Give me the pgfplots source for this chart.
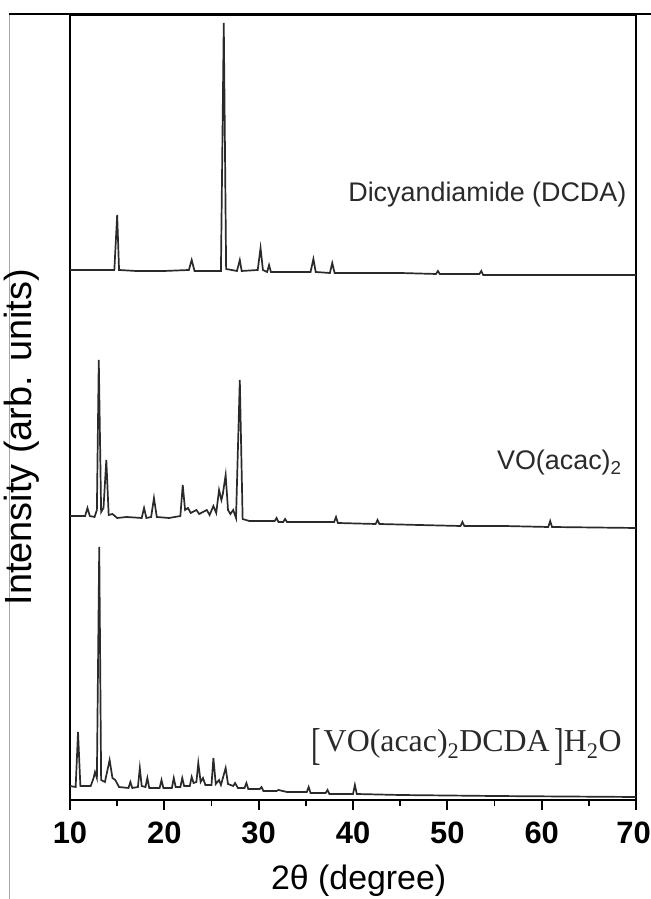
\documentclass[border=0pt]{standalone}
\usepackage{fontspec}
\setmainfont{Liberation Sans}
\newfontfamily\timesfont{Liberation Serif}
\usepackage{graphicx}
\usepackage{pgfplots}
\pgfplotsset{compat=1.18}
\definecolor{trace}{HTML}{2A2A2A}
\begin{document}
\begin{tikzpicture}[x=1bp,y=1bp]
\useasboundingbox (0,0) rectangle (651,899);
\draw[gray!70, line width=1bp] (9,0) -- (9,885);
\draw[black, line width=1.5bp] (9,885) -- (651,885);
\begin{axis}[
  at={(70bp,99bp)}, anchor=south west,
  scale only axis, width=566bp, height=785bp,
  xmin=10, xmax=70, ymin=0, ymax=785,
  axis line style={line width=1.8bp, black},
  xtick={10,20,...,70}, minor xtick={15,25,...,65},
  xticklabels={10,20,30,40,50,60,\hbox{70\kern5bp}},
  ytick=\empty,
  tick align=outside, xtick pos=bottom,
  major tick length=10bp, minor tick length=6bp,
  tick style={line width=1.8bp, black},
  /pgf/number format/assume math mode=true,
  xticklabel style={font=\bfseries\fontsize{31}{31}\selectfont, yshift=-8bp},
  xlabel={2θ (degree)},
  xlabel style={font=\fontsize{34}{34}\selectfont, at={(axis description cs:0.51,-0.082)}, anchor=north, inner sep=0pt},
  ylabel={Intensity (arb. units)},
  ylabel style={font=\fontsize{38}{38}\selectfont, at={(axis description cs:-0.054,0.462)}, anchor=south, inner sep=0pt},
  clip=true,
]
% Dicyandiamide (DCDA)
\addplot[trace, line width=1.7bp] coordinates {
(10,530) (12,530) (14.7,530) (15.0,585) (15.2,530) (17,529) (20,529) (22.6,530) (22.9,540) (23.2,529)
(26.0,529) (26.3,777) (26.55,531) (27.7,529) (28.0,540) (28.2,529) (29.9,530) (30.2,552) (30.45,530)
(30.9,528) (31.1,535) (31.3,528) (35.5,528) (35.8,541) (36.05,528) (37.55,527) (37.8,537) (38.05,527)
(45,527) (48.8,526) (49.0,529) (49.2,526) (53.4,526) (53.6,529) (53.8,525) (60,525) (70,525)
};
% VO(acac)2
\addplot[trace, line width=1.7bp] coordinates {
(10,284) (11.6,284) (11.85,292) (12.1,284) (12.6,283) (12.85,290) (13.05,440) (13.3,288) (13.55,292)
(13.85,340) (14.1,285) (14.5,286) (15.0,282) (16.0,283) (17.6,282) (17.85,292) (18.1,282) (18.6,283)
(18.9,302) (19.2,283) (20.5,282) (21.7,284) (21.95,315) (22.2,290) (22.5,292) (22.8,287) (23.4,290)
(23.7,286) (24.5,290) (24.8,285) (25.2,294) (25.5,287) (25.8,310) (26.05,300) (26.2,306) (26.5,325)
(26.75,290) (27.0,286) (27.3,290) (27.6,282) (28.0,420) (28.3,281) (29,279) (31.7,279) (31.9,282) (32.1,278)
(32.6,278) (32.8,281) (33.0,278) (35,278) (38.0,278) (38.2,283) (38.4,277) (42.4,276) (42.6,280) (42.8,276)
(47,275) (51.4,274) (51.6,278) (51.8,274) (56,274) (60.7,273) (60.9,279) (61.1,273) (70,272)
};
% [VO(acac)2DCDA]H2O
\addplot[trace, line width=1.7bp] coordinates {
(10,14) (10.6,13) (10.85,68) (11.1,14) (12.2,14) (12.5,22) (12.65,28) (12.85,22) (13.1,253) (13.3,20)
(13.7,18) (14.2,40) (14.5,22) (14.8,20) (15.2,13) (16.2,12) (16.4,18) (16.6,12) (17.2,13) (17.4,32)
(17.6,14) (18.0,13) (18.2,22) (18.4,12) (19.5,12) (19.7,20) (19.9,12) (20.8,12) (21.0,22) (21.2,13)
(21.7,13) (21.9,22) (22.1,14) (22.7,14) (22.9,23) (23.1,17) (23.4,18) (23.6,37) (23.85,18) (24.1,22)
(24.35,15) (25.0,15) (25.2,42) (25.45,16) (25.8,20) (26.0,15) (26.5,32) (26.75,16) (27.3,14) (27.5,17)
(27.8,12) (28.5,12) (28.7,17) (28.9,11) (30.1,11) (30.3,13) (30.5,9) (31.9,9) (32.1,10) (33,8) (35.1,8)
(35.3,13) (35.5,7) (37.1,7) (37.3,10) (37.5,6) (40.0,6) (40.2,15) (40.4,6) (45,5) (55,4) (70,3)
};
\node[anchor=base east, font=\fontsize{27}{27}\selectfont, text=trace, inner sep=0pt] at (axis cs:69.0,598) {Dicyandiamide (DCDA)};
\node[anchor=base east, font=\fontsize{27}{27}\selectfont, text=trace, inner sep=0pt] at (axis cs:68.5,330) {VO(acac)\textsubscript{2}};
\node[anchor=base east, font=\timesfont\fontsize{32}{32}\selectfont, text=trace, inner sep=0pt] at (axis cs:68.5,48)
  {\raisebox{-0.22em}{\scalebox{0.9}[1.4]{[}}\kern0.1em VO(acac)\textsubscript{2}DCDA\kern0.15em\raisebox{-0.22em}{\scalebox{0.9}[1.4]{]}}H\textsubscript{2}O};
\end{axis}
\end{tikzpicture}
\end{document}
